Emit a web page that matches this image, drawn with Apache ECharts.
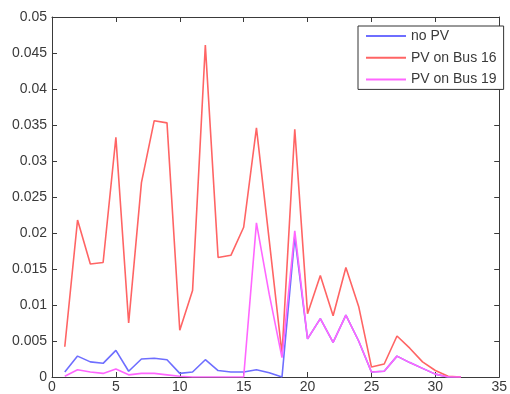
<!DOCTYPE html>
<html>
<head>
<meta charset="utf-8">
<script src="https://cdn.jsdelivr.net/npm/echarts@6/dist/echarts.min.js"></script>
<style>html,body{margin:0;padding:0;background:#fff;}#c{width:510px;height:394px;}</style>
</head>
<body>
<div id="c"></div>
<script>
var buses = [1,2,3,4,5,6,7,8,9,10,11,12,13,14,15,16,17,18,19,20,21,22,23,24,25,26,27,28,29,30,31,32];
var noPV = [0.0007,0.0029,0.0021,0.0019,0.0037,0.0008,0.0025,0.0026,0.0024,0.0005,0.0007,0.0024,0.0009,0.0007,0.0007,0.0010,0.0006,0.0000,0.0195,0.0053,0.0081,0.0048,0.0086,0.0050,0.0007,0.0008,0.0029,0.0020,0.0012,0.0004,0.0000,0.0000];
var pvBus16 = [0.0042,0.0218,0.0157,0.0159,0.0333,0.0075,0.0270,0.0356,0.0353,0.0065,0.0120,0.0461,0.0166,0.0169,0.0208,0.0346,0.0190,0.0032,0.0344,0.0088,0.0141,0.0085,0.0152,0.0098,0.0014,0.0018,0.0057,0.0040,0.0021,0.0009,0.0001,0.0000];
var pvBus19 = [0.0001,0.0010,0.0007,0.0005,0.0011,0.0003,0.0005,0.0005,0.0003,0.0001,0.0000,0.0000,0.0000,0.0000,0.0000,0.0214,0.0115,0.0027,0.0203,0.0053,0.0081,0.0048,0.0086,0.0050,0.0007,0.0008,0.0029,0.0020,0.0012,0.0004,0.0000,0.0000];
var seriesNames = ['no PV','PV on Bus 16','PV on Bus 19'];

function pairs(v){ return buses.map(function(b,i){ return [b, v[i]]; }); }

var axisColor = '#3a3a3a';
var font = 'Liberation Sans, Arial, Helvetica, sans-serif';
var chart = echarts.init(document.getElementById('c'), null, {renderer:'canvas'});
chart.setOption({
  backgroundColor: '#ffffff',
  animation: false,
  grid: {left: 52, right: 1, top: 17, bottom: 16, containLabel: false},
  legend: {
    orient: 'vertical', left: 358, top: 26,
    itemWidth: 40, itemHeight: 14, itemGap: 7.7,
    padding: [3, 7, 3, 7],
    borderColor: '#333', borderWidth: 1,
    backgroundColor: '#fff',
    itemStyle: {opacity: 0},
    lineStyle: {width: 2},
    textStyle: {fontFamily: font, fontSize: 14, color: '#3a3a3a'},
    data: seriesNames
  },
  xAxis: [{
    type: 'value', min: 0, max: 35, interval: 5, position: 'bottom',
    axisLine: {show: true, onZero: false, lineStyle: {color: axisColor, width: 1}},
    axisTick: {show: true, inside: true, length: 5, lineStyle: {color: axisColor}},
    axisLabel: {fontFamily: font, fontSize: 14, color: '#3a3a3a', margin: 3, showMaxLabel: true},
    splitLine: {show: false}
  },{
    type: 'value', min: 0, max: 35, interval: 5, position: 'top',
    axisLine: {show: true, onZero: false, lineStyle: {color: axisColor, width: 1}},
    axisTick: {show: true, inside: true, length: 5, lineStyle: {color: axisColor}},
    axisLabel: {show: false}, splitLine: {show: false}
  }],
  yAxis: [{
    type: 'value', min: 0, max: 0.05, interval: 0.005, position: 'left',
    axisLine: {show: true, onZero: false, lineStyle: {color: axisColor, width: 1}},
    axisTick: {show: true, inside: true, length: 5, lineStyle: {color: axisColor}},
    axisLabel: {fontFamily: font, fontSize: 14, color: '#3a3a3a', margin: 5},
    splitLine: {show: false}
  },{
    type: 'value', min: 0, max: 0.05, interval: 0.005, position: 'right',
    axisLine: {show: true, onZero: false, lineStyle: {color: axisColor, width: 1}},
    axisTick: {show: true, inside: true, length: 5, lineStyle: {color: axisColor}},
    axisLabel: {show: false}, splitLine: {show: false}
  }],
  series: [
    {name: seriesNames[0], type: 'line', data: pairs(noPV), symbol: 'none', color: '#6e6eff', lineStyle: {width: 1.6, color: '#6e6eff'}},
    {name: seriesNames[1], type: 'line', data: pairs(pvBus16), symbol: 'none', color: '#ff6464', lineStyle: {width: 1.6, color: '#ff6464'}},
    {name: seriesNames[2], type: 'line', data: pairs(pvBus19), symbol: 'none', color: '#ff66ff', lineStyle: {width: 1.6, color: '#ff66ff'}}
  ]
});
</script>
</body>
</html>
